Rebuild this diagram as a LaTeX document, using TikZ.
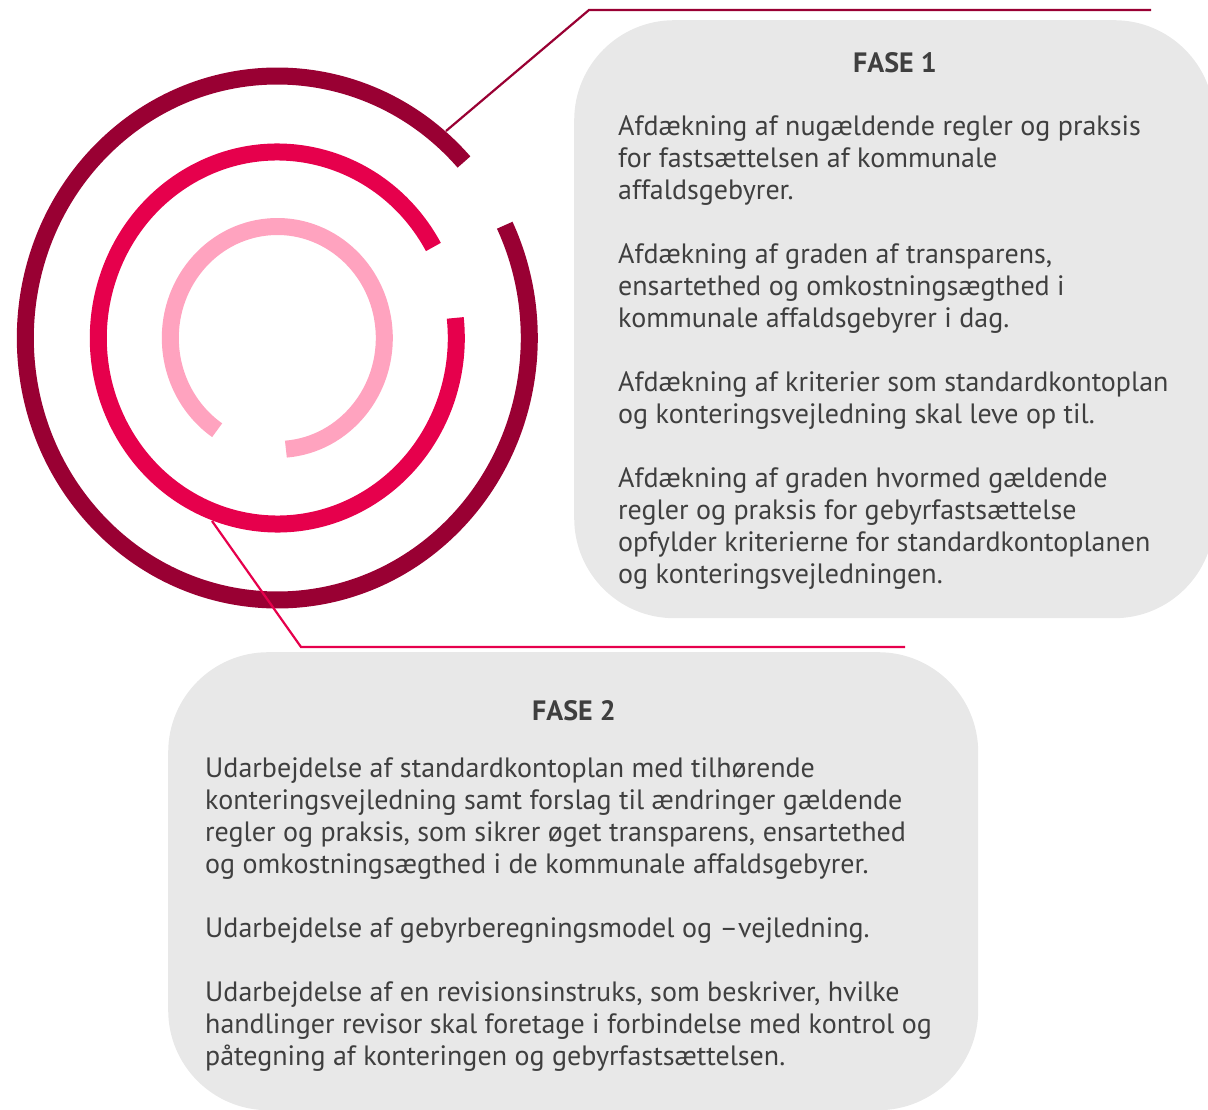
\documentclass[tikz,border=0pt]{standalone}
\usepackage{fontspec}
\setmainfont{PT Sans}
\usepackage{xcolor}
\usetikzlibrary{positioning}

\definecolor{ringdark}{HTML}{990033}
\definecolor{ringmid}{HTML}{E6004C}
\definecolor{ringlight}{HTML}{FFA3BF}
\definecolor{boxgray}{HTML}{E8E8E8}
\definecolor{txtgray}{HTML}{3F3F3F}

\begin{document}
\begin{tikzpicture}[x=1pt,y=-1pt,
  ring/.style={line width=17pt},
  leader/.style={line width=2.2pt},
  fasebox/.style={fill=boxgray,rounded corners=100pt,inner sep=0pt,anchor=north west},
  title/.style={font=\fontsize{28}{32}\selectfont\bfseries,text=txtgray,inner sep=0pt,anchor=base},
  body/.style={font=\fontsize{28}{32}\selectfont,text=txtgray,inner sep=0pt,align=left,anchor=base west}]

  \useasboundingbox (0,0) rectangle (1208,1110);

  \def \cx {277.3}
  \def \cy {338}

  % boxes
  \node[fasebox,minimum width=640pt,minimum height=598pt] (box1) at (574,20) {};
  \node[fasebox,minimum width=810pt,minimum height=458pt] (box2) at (168,652) {};

  % rings
  \begin{scope}[shift={(\cx,\cy)}]
    \draw[ring,ringdark]  (-42.2:252 and 262) arc (-42.2:-385.5:252 and 262);
    \draw[ring,ringmid]   (-29.3:179 and 186) arc (-29.3:-366.2:179 and 186);
    \draw[ring,ringlight] (-274.6:107 and 111.5) arc (-274.6:-595.8:107 and 111.5);
  \end{scope}

  % leaders
  \coordinate (a0) at (446,131);
  \coordinate (a1) at (589,10);
  \coordinate (a2) at (1151,10);
  \draw[leader,ringdark] (a0) -- (a1) -- (a2);

  \coordinate (b0) at (212,521);
  \coordinate (b1) at (301,647);
  \coordinate (b2) at (905,647);
  \draw[leader,ringmid] (b0) -- (b1) -- (b2);

  % fase 1 (base = last line)
  \node[title] (fase1) at (895,73) {FASE 1};
  \node[body] (text1) at (618,583) {Afdækning af nugældende regler og praksis\\
    for fastsættelsen af kommunale\\
    affaldsgebyrer.\\[32pt]
    Afdækning af graden af transparens,\\
    ensartethed og omkostningsægthed i\\
    kommunale affaldsgebyrer i dag.\\[32pt]
    Afdækning af kriterier som standardkontoplan\\
    og konteringsvejledning skal leve op til.\\[32pt]
    Afdækning af graden hvormed gældende\\
    regler og praksis for gebyrfastsættelse\\
    opfylder kriterierne for standardkontoplanen\\
    og konteringsvejledningen.};

  % fase 2
  \node[title] (fase2) at (574,720) {FASE 2};
  \node[body] (text2) at (205,1065) {Udarbejdelse af standardkontoplan med tilhørende\\
    konteringsvejledning samt forslag til ændringer gældende\\
    regler og praksis, som sikrer øget transparens, ensartethed\\
    og omkostningsægthed i de kommunale affaldsgebyrer.\\[32pt]
    Udarbejdelse af gebyrberegningsmodel og –vejledning.\\[32pt]
    Udarbejdelse af en revisionsinstruks, som beskriver, hvilke\\
    handlinger revisor skal foretage i forbindelse med kontrol og\\
    påtegning af konteringen og gebyrfastsættelsen.};

\end{tikzpicture}
\end{document}
